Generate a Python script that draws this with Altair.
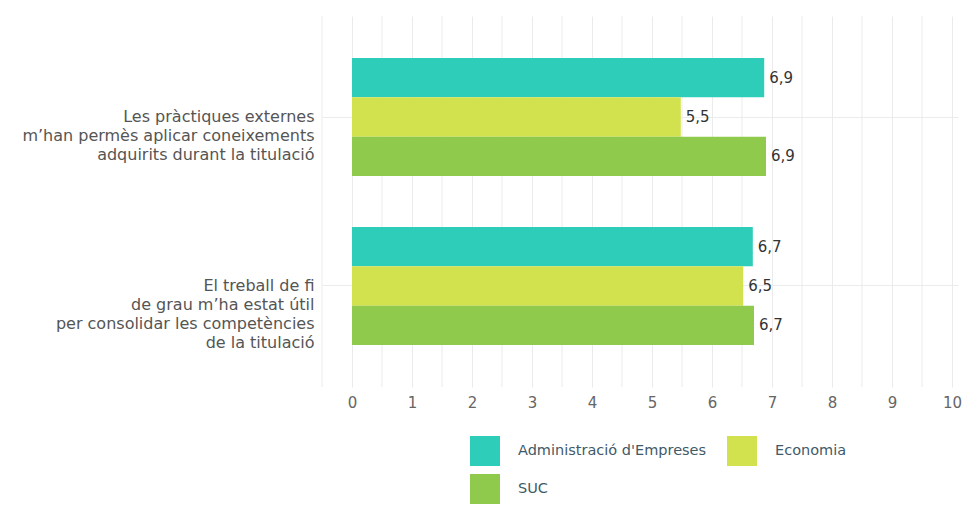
import altair as alt
import pandas as pd

questions = [
    "Les pràctiques externes|m’han permès aplicar coneixements|adquirits durant la titulació",
    "El treball de fi|de grau m’ha estat útil|per consolidar les competències|de la titulació",
]
series = ["Administració d'Empreses", "Economia", "SUC"]
colors = ["#2ECDB9", "#D2E24E", "#8FCA4D"]
values_q1 = [6.87, 5.48, 6.90]
values_q2 = [6.68, 6.52, 6.70]
labels_q1 = ["6,9", "5,5", "6,9"]
labels_q2 = ["6,7", "6,5", "6,7"]
x_major = [0, 1, 2, 3, 4, 5, 6, 7, 8, 9, 10]
x_minor = [-0.5, 0.5, 1.5, 2.5, 3.5, 4.5, 5.5, 6.5, 7.5, 8.5, 9.5]

rows = []
for q, vals, labs in [(questions[0], values_q1, labels_q1), (questions[1], values_q2, labels_q2)]:
    for s, v, l in zip(series, vals, labs):
        rows.append({"question": q, "series": s, "value": v, "label": l})
df = pd.DataFrame(rows)
df_minor = pd.DataFrame({"value": x_minor})

FONT = "DejaVu Sans"
XSCALE = alt.Scale(domain=[-0.5, 10.1], nice=False, zero=False)

y_enc = alt.Y(
    "question:N",
    sort=questions,
    scale=alt.Scale(paddingInner=0.302, paddingOuter=0.249),
    axis=alt.Axis(
        title=None,
        labelExpr="split(datum.label, '|')",
        labelFont=FONT,
        labelFontSize=16,
        labelColor="#555555",
        labelLineHeight=19,
        labelPadding=8,
        labelAlign="right",
        labelBaseline="middle",
        ticks=False,
        domain=False,
        grid=True,
        gridColor="#ebebeb",
        bandPosition=0.5,
        labelLimit=400,
    ),
)
yoff_enc = alt.YOffset("series:N", sort=series, scale=alt.Scale(paddingInner=0, paddingOuter=0))
x_enc = alt.X(
    "value:Q",
    scale=XSCALE,
    axis=alt.Axis(
        title=None,
        values=x_major,
        format="d",
        labelOverlap=False,
        labelFont=FONT,
        labelFontSize=15,
        labelColor="#666666",
        labelPadding=8,
        ticks=False,
        domain=False,
        grid=True,
        gridColor="#ebebeb",
    ),
)

minor = alt.Chart(df_minor).mark_rule(color="#ebebeb", strokeWidth=1).encode(
    x=alt.X("value:Q", scale=XSCALE)
)

bars = alt.Chart(df).mark_bar().encode(
    x=x_enc,
    y=y_enc,
    yOffset=yoff_enc,
    color=alt.Color(
        "series:N",
        sort=series,
        scale=alt.Scale(domain=series, range=colors),
        legend=alt.Legend(
            title=None,
            orient="none",
            legendX=148,
            legendY=420,
            direction="horizontal",
            columns=2,
            symbolType="square",
            symbolSize=900,
            symbolStrokeWidth=0,
            symbolOpacity=1,
            labelFont=FONT,
            labelFontSize=14.5,
            labelColor="#3f5a68",
            labelOffset=18,
            columnPadding=20,
            rowPadding=8,
            labelLimit=300,
        ),
    ),
)

text = alt.Chart(df).mark_text(
    align="left", baseline="middle", dx=5, font=FONT, fontSize=15, color="#333333"
).encode(
    x=alt.X("value:Q"),
    y=alt.Y("question:N", sort=questions),
    yOffset=alt.YOffset("series:N", sort=series),
    text="label:N",
)

chart = (
    alt.layer(minor, bars, text)
    .properties(
        width=636,
        height=371,
        autosize=alt.AutoSizeParams(type="none"),
        padding={"left": 314, "top": 8, "right": 4, "bottom": 118},
    )
    .configure_view(stroke=None)
)

chart.save("out.html", embed_options={"renderer": "svg", "actions": False})
